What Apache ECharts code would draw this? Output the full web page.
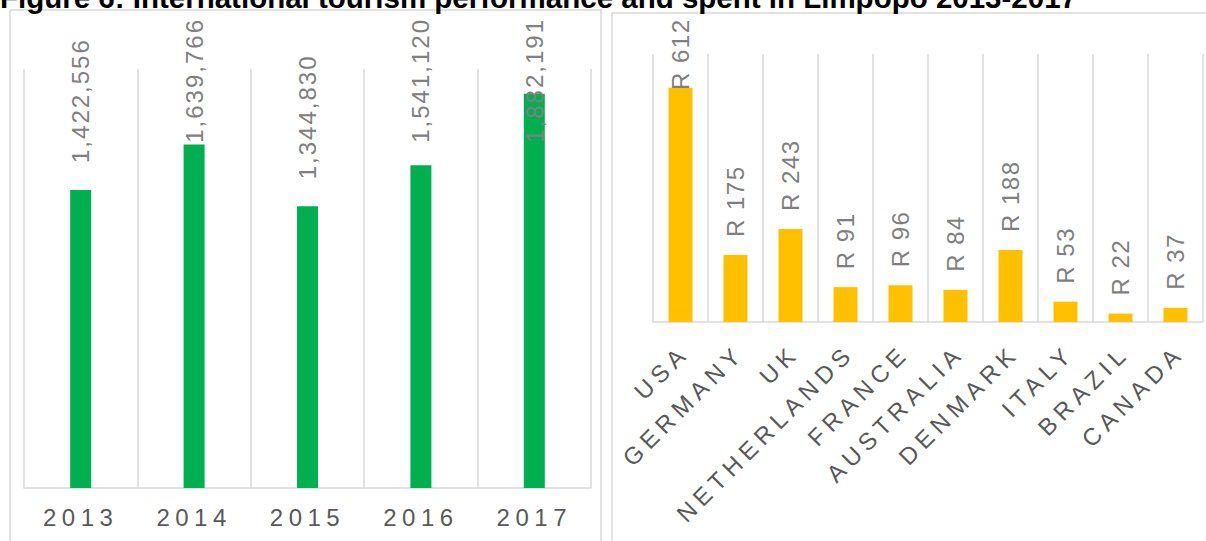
<!DOCTYPE html>
<html>
<head>
<meta charset="utf-8">
<script src="https://cdn.jsdelivr.net/npm/echarts@6/dist/echarts.min.js"></script>
<style>
  html, body { margin: 0; padding: 0; background: #fff; }
  #main { width: 1206px; height: 541px; }
  /* Excel export uses expanded character spacing */
  #main text[fill="#595959"] { letter-spacing: 5.5px; }
  #main text[fill="#808080"] { letter-spacing: 2px; }
  #main text[fill="#7f7f7f"] { letter-spacing: 1.5px; }
</style>
</head>
<body>
<div id="main"></div>
<script>
// international arrivals per year
const years = ['2013', '2014', '2015', '2016', '2017'];
const arrivals = [1422556, 1639766, 1344830, 1541120, 1882191];
// spend by source country (R million)
const countries = ['USA', 'GERMANY', 'UK', 'NETHERLANDS', 'FRANCE', 'AUSTRALIA', 'DENMARK', 'ITALY', 'BRAZIL', 'CANADA'];
const spend = [612, 175, 243, 91, 96, 84, 188, 53, 22, 37];

const chart = echarts.init(document.getElementById('main'), null, { renderer: 'svg' });

const labelFont = 'Liberation Sans';
const gridColor = '#d9d9d9';
const labelTop = 20;

// keep rotated value labels inside the chart area, like Excel does
function clampTop(spacing) {
  return function (params) {
    const r = params.labelRect;
    const extra = (params.text.length - 1) * spacing;
    if (r.y - extra < labelTop) {
      return { y: labelTop + r.height + extra };
    }
    return {};
  };
}

const option = {
  animation: false,
  title: {
    text: 'Figure 6: International tourism performance and spent in Limpopo 2013-2017',
    left: 0,
    top: -18,
    padding: 0,
    textStyle: {
      fontFamily: 'Liberation Sans',
      fontWeight: 'bold',
      fontSize: 29.5,
      color: '#000'
    }
  },
  graphic: [
    {
      type: 'rect',
      shape: { x: 10, y: 10, width: 591, height: 560 },
      style: { fill: 'none', stroke: gridColor, lineWidth: 1.5 },
      silent: true
    },
    {
      type: 'rect',
      shape: { x: 612, y: 13, width: 620, height: 560 },
      style: { fill: 'none', stroke: gridColor, lineWidth: 1.5 },
      silent: true
    }
  ],
  grid: [
    { left: 24, right: 615, top: 69, bottom: 53 },
    { left: 653, right: 3, top: 54, bottom: 219 }
  ],
  xAxis: [
    {
      type: 'category',
      gridIndex: 0,
      data: years,
      axisLine: { lineStyle: { color: gridColor, width: 1.5 } },
      axisTick: { show: false },
      splitLine: { show: true, lineStyle: { color: gridColor, width: 1.5 } },
      axisLabel: {
        fontFamily: labelFont,
        fontSize: 24,
        color: '#595959',
        margin: 17
      }
    },
    {
      type: 'category',
      gridIndex: 1,
      data: countries,
      axisLine: { lineStyle: { color: gridColor, width: 1.5 } },
      axisTick: { show: false },
      splitLine: { show: true, lineStyle: { color: gridColor, width: 1.5 } },
      axisLabel: {
        fontFamily: labelFont,
        fontSize: 24,
        color: '#595959',
        rotate: 45,
        interval: 0,
        align: 'right',
        verticalAlign: 'top',
        padding: [0, 6, 0, 0],
        margin: 14
      }
    }
  ],
  yAxis: [
    {
      type: 'value',
      gridIndex: 0,
      min: 0,
      max: 2000000,
      show: false,
      splitLine: { show: false }
    },
    {
      type: 'value',
      gridIndex: 1,
      min: 0,
      max: 700,
      show: false,
      splitLine: { show: false }
    }
  ],
  series: [
    {
      type: 'bar',
      xAxisIndex: 0,
      yAxisIndex: 0,
      data: arrivals,
      barWidth: 21,
      itemStyle: { color: '#00b050' },
      label: {
        show: true,
        position: 'top',
        rotate: 90,
        align: 'left',
        verticalAlign: 'middle',
        distance: 27,
        fontFamily: labelFont,
        fontSize: 24,
        color: '#808080',
        formatter: p => p.value.toLocaleString('en-US')
      },
      labelLayout: clampTop(2)
    },
    {
      type: 'bar',
      xAxisIndex: 1,
      yAxisIndex: 1,
      data: spend,
      barWidth: 24,
      itemStyle: { color: '#ffc000' },
      label: {
        show: true,
        position: 'top',
        rotate: 90,
        align: 'left',
        verticalAlign: 'middle',
        distance: 18,
        fontFamily: labelFont,
        fontSize: 24,
        color: '#7f7f7f',
        formatter: p => 'R ' + p.value
      },
      labelLayout: clampTop(1.5)
    }
  ]
};

chart.setOption(option);
</script>
</body>
</html>
